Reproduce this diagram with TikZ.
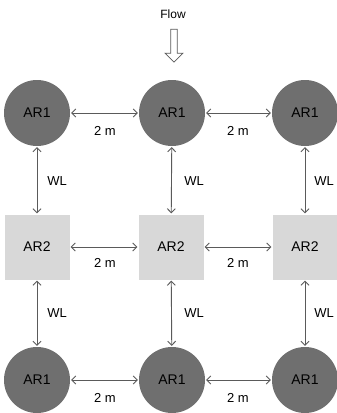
\documentclass[tikz,border=0pt]{standalone}
\usepackage{fontspec}
\setmainfont{Liberation Sans}
\usetikzlibrary{arrows.meta,shapes.arrows}
\definecolor{circfill}{HTML}{6F6F6F}
\definecolor{sqfill}{HTML}{D8D8D8}
\definecolor{linkcol}{HTML}{5A5A5A}
\begin{document}
\begin{tikzpicture}[x=1pt,y=-1pt,
  arone/.style={circle,fill=circfill,minimum size=66pt,inner sep=0pt,font=\fontsize{14}{14}\selectfont},
  artwo/.style={rectangle,fill=sqfill,minimum size=65pt,inner sep=0pt,font=\fontsize{14}{14}\selectfont},
  link/.style={draw=linkcol,line width=0.9pt,{Straight Barb[length=4pt,width=8pt]}-{Straight Barb[length=4pt,width=8pt]},shorten <=1pt,shorten >=1pt},
  lbl/.style={font=\fontsize{13}{13}\selectfont,inner sep=0pt}]
\useasboundingbox (0,0) rectangle (337,413);
% grid of reactors
\node[arone] (a1) at (37,113) {AR1};
\node[arone] (a2) at (172,113) {AR1};
\node[arone] (a3) at (305,113) {AR1};
\node[artwo] (b1) at (37,247) {AR2};
\node[artwo] (b2) at (171,247) {AR2};
\node[artwo] (b3) at (305,247) {AR2};
\node[arone] (c1) at (37,380) {AR1};
\node[arone] (c2) at (172,380) {AR1};
\node[arone] (c3) at (305,380) {AR1};
% horizontal spacings
\foreach \l/\r in {a1/a2,a2/a3,b1/b2,b2/b3,c1/c2,c2/c3}
  \draw[link] (\l) -- (\r);
\node[lbl] at (105,131) {2 m};
\node[lbl] at (238,131) {2 m};
\node[lbl] at (105,263) {2 m};
\node[lbl] at (238,263) {2 m};
\node[lbl] at (105,398) {2 m};
\node[lbl] at (238,398) {2 m};
% vertical spacings
\foreach \t/\b in {a1/b1,a2/b2,a3/b3,b1/c1,b2/c2,b3/c3}
  \draw[link] (\t) -- (\b);
\node[lbl] at (57,181) {WL};
\node[lbl] at (194,181) {WL};
\node[lbl] at (324,181) {WL};
\node[lbl] at (57,313) {WL};
\node[lbl] at (194,313) {WL};
\node[lbl] at (324,313) {WL};
% flow direction
\node[lbl,font=\fontsize{12}{12}\selectfont] (flow) at (173,14) {Flow};
\node[single arrow,draw=linkcol,fill=white,line width=0.8pt,shape border rotate=270,
  minimum height=33pt,minimum width=18pt,single arrow head extend=5pt,inner sep=2.5pt] (fa) at (174,44) {};
\end{tikzpicture}
\end{document}
